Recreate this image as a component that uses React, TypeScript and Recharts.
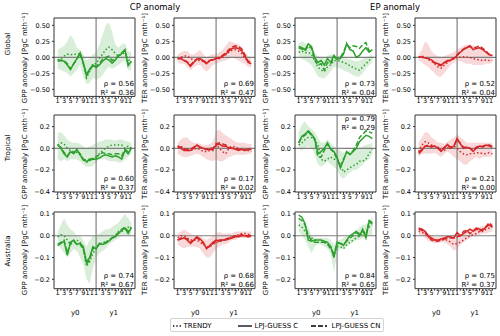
import React from 'react';
import { ComposedChart, Line, Area, XAxis, YAxis, ReferenceLine } from 'recharts';

// x positions: 12 months of y0 followed by 12 months of y1
const monthIdx = [0, 1, 2, 3, 4, 5, 6, 7, 8, 9, 10, 11, 12, 13, 14, 15, 16, 17, 18, 19, 20, 21, 22, 23];
const monthLabels = ['1', '', '3', '', '5', '', '7', '', '9', '', '11', '', '1', '', '3', '', '5', '', '7', '', '9', '', '11', ''];
const yearPos = [5.5, 17.5];
const yearLabels = ['y0', 'y1'];

const globalTicks = [-0.5, -0.25, 0, 0.25, 0.5];
const tropicalTicks = [-0.4, -0.2, 0, 0.2];
const australiaTicks = [-0.2, -0.1, 0, 0.1];

// Global, CP, GPP
const gCpGppTrendy = [-0.04, -0.02, 0.02, 0.05, 0.04, 0.05, 0.05, 0.06, -0.1, -0.32, -0.22, -0.1, -0.1, -0.02, 0.05, 0.12, 0.16, 0.12, 0.06, 0.02, 0.05, 0.08, -0.04, -0.05];
const gCpGppC = [-0.06, -0.05, -0.06, -0.12, -0.19, -0.1, -0.02, 0.07, -0.08, -0.27, -0.18, -0.12, -0.16, -0.12, -0.06, -0.02, -0.04, -0.09, -0.04, 0.02, 0.06, 0.12, -0.13, -0.06];
const gCpGppCN = [-0.05, -0.04, -0.05, -0.1, -0.18, -0.1, -0.03, 0.06, -0.1, -0.29, -0.2, -0.13, -0.14, -0.1, -0.03, 0.0, 0.02, -0.05, -0.02, 0.03, 0.07, 0.11, -0.1, -0.07];
const gCpGppLo = [-0.18, -0.2, -0.22, -0.25, -0.3, -0.25, -0.2, -0.12, -0.3, -0.42, -0.4, -0.32, -0.35, -0.33, -0.28, -0.2, -0.15, -0.18, -0.15, -0.12, -0.08, -0.05, -0.2, -0.2];
const gCpGppHi = [0.12, 0.15, 0.18, 0.25, 0.35, 0.28, 0.15, 0.12, 0.05, -0.05, 0.0, 0.05, 0.08, 0.2, 0.35, 0.5, 0.55, 0.4, 0.2, 0.15, 0.2, 0.22, 0.1, 0.08];

// Global, CP, TER
const gCpTerTrendy = [-0.02, 0.0, 0.02, 0.02, -0.02, -0.04, -0.05, -0.05, -0.06, -0.09, -0.06, -0.03, -0.02, -0.02, 0.0, 0.04, 0.08, 0.11, 0.12, 0.1, 0.06, -0.01, -0.06, -0.08];
const gCpTerC = [-0.02, -0.02, -0.05, -0.08, -0.14, -0.08, -0.03, -0.02, -0.06, -0.1, -0.05, -0.04, -0.02, -0.01, 0.02, 0.05, 0.1, 0.14, 0.15, 0.14, 0.1, 0.02, -0.08, -0.1];
const gCpTerCN = [-0.02, -0.01, -0.04, -0.07, -0.12, -0.07, -0.03, -0.03, -0.05, -0.08, -0.05, -0.03, -0.01, 0.0, 0.03, 0.07, 0.12, 0.16, 0.18, 0.17, 0.13, 0.04, -0.06, -0.09];
const gCpTerLo = [-0.08, -0.1, -0.1, -0.15, -0.2, -0.15, -0.12, -0.12, -0.18, -0.22, -0.18, -0.12, -0.1, -0.08, -0.06, -0.05, -0.02, 0.0, -0.02, -0.05, -0.08, -0.1, -0.15, -0.16];
const gCpTerHi = [0.05, 0.08, 0.1, 0.1, 0.05, 0.04, 0.08, 0.12, 0.05, 0.0, 0.03, 0.05, 0.05, 0.08, 0.12, 0.18, 0.25, 0.24, 0.22, 0.2, 0.16, 0.08, 0.02, 0.0];

// Global, EP, GPP
const gEpGppTrendy = [0.08, 0.1, 0.07, 0.08, 0.05, -0.05, -0.15, -0.2, -0.22, -0.15, -0.12, -0.05, -0.05, -0.06, -0.08, -0.1, -0.13, -0.16, -0.18, -0.2, -0.15, -0.1, -0.05, 0.0];
const gEpGppC = [0.17, 0.15, 0.12, 0.21, 0.17, 0.0, -0.08, -0.05, -0.12, -0.02, -0.08, 0.03, -0.03, -0.02, 0.05, 0.22, 0.12, 0.1, 0.0, 0.03, 0.1, 0.15, 0.08, 0.12];
const gEpGppCN = [0.15, 0.13, 0.1, 0.18, 0.14, -0.03, -0.12, -0.1, -0.2, -0.08, -0.1, 0.0, -0.02, 0.0, 0.08, 0.2, 0.15, 0.18, 0.17, 0.14, 0.2, 0.23, 0.1, 0.12];
const gEpGppLo = [0.0, -0.02, -0.05, -0.08, -0.12, -0.2, -0.3, -0.32, -0.33, -0.28, -0.22, -0.15, -0.15, -0.18, -0.2, -0.22, -0.25, -0.28, -0.3, -0.3, -0.25, -0.18, -0.12, -0.08];
const gEpGppHi = [0.22, 0.25, 0.22, 0.18, 0.15, 0.08, 0.02, 0.0, -0.02, 0.03, 0.05, 0.05, 0.03, 0.02, 0.0, -0.02, -0.03, -0.05, -0.06, -0.05, -0.02, 0.0, 0.02, 0.04];

// Global, EP, TER
const gEpTerTrendy = [0.0, 0.02, 0.0, -0.03, -0.06, -0.1, -0.15, -0.17, -0.12, -0.08, -0.05, -0.02, 0.0, 0.0, 0.01, 0.0, 0.0, -0.02, -0.03, -0.04, -0.05, -0.04, -0.05, -0.05];
const gEpTerC = [0.0, 0.0, -0.01, -0.02, -0.04, -0.08, -0.1, -0.12, -0.08, -0.05, -0.04, -0.02, 0.03, 0.08, 0.12, 0.15, 0.18, 0.12, 0.14, 0.15, 0.12, 0.08, 0.04, 0.03];
const gEpTerCN = [0.01, 0.0, 0.0, -0.02, -0.05, -0.09, -0.12, -0.13, -0.09, -0.06, -0.04, -0.01, 0.04, 0.09, 0.13, 0.16, 0.17, 0.14, 0.16, 0.18, 0.14, 0.1, 0.05, 0.03];
const gEpTerLo = [-0.05, -0.08, -0.12, -0.15, -0.2, -0.25, -0.3, -0.3, -0.25, -0.18, -0.12, -0.08, -0.05, -0.06, -0.08, -0.1, -0.1, -0.12, -0.12, -0.12, -0.12, -0.1, -0.1, -0.08];
const gEpTerHi = [0.05, 0.12, 0.25, 0.2, 0.1, 0.05, 0.02, 0.0, 0.02, 0.04, 0.06, 0.08, 0.12, 0.15, 0.18, 0.2, 0.2, 0.18, 0.16, 0.15, 0.12, 0.1, 0.06, 0.05];

// Tropical, CP, GPP
const tCpGppTrendy = [0.03, 0.05, 0.04, 0.0, -0.02, -0.03, -0.04, -0.06, -0.1, -0.13, -0.11, -0.1, -0.08, -0.05, -0.02, 0.0, 0.02, 0.03, 0.03, 0.03, 0.03, 0.0, 0.02, 0.0];
const tCpGppC = [0.035, 0.0, -0.05, -0.08, -0.03, -0.05, -0.01, -0.06, -0.11, -0.12, -0.11, -0.1, -0.1, -0.09, -0.07, -0.06, -0.07, -0.08, -0.07, -0.08, -0.1, -0.02, -0.05, 0.0];
const tCpGppCN = [0.03, 0.01, -0.04, -0.07, -0.03, -0.04, -0.02, -0.05, -0.1, -0.11, -0.1, -0.09, -0.08, -0.06, -0.04, -0.05, -0.05, -0.06, -0.05, -0.05, -0.07, -0.01, -0.03, 0.01];
const tCpGppLo = [-0.1, -0.12, -0.1, -0.12, -0.1, -0.1, -0.1, -0.12, -0.15, -0.17, -0.17, -0.16, -0.13, -0.1, -0.1, -0.1, -0.12, -0.12, -0.12, -0.13, -0.13, -0.1, -0.08, -0.05];
const tCpGppHi = [0.14, 0.15, 0.12, 0.08, 0.06, 0.05, 0.05, 0.04, 0.02, 0.0, 0.02, 0.03, 0.05, 0.06, 0.07, 0.08, 0.08, 0.08, 0.07, 0.08, 0.08, 0.07, 0.06, 0.05];

// Tropical, CP, TER
const tCpTerTrendy = [0.02, 0.02, 0.0, -0.02, -0.02, -0.01, 0.0, -0.01, -0.03, -0.03, -0.02, -0.02, 0.04, 0.0, -0.03, -0.05, 0.0, 0.02, 0.01, 0.0, -0.01, -0.02, -0.02, -0.03];
const tCpTerC = [0.01, 0.0, -0.02, -0.02, -0.02, 0.0, 0.03, 0.01, 0.0, -0.01, -0.01, -0.01, 0.03, 0.04, 0.02, 0.02, 0.0, 0.0, -0.01, -0.02, -0.01, -0.02, -0.01, -0.01];
const tCpTerCN = [0.02, 0.01, -0.01, -0.01, -0.01, 0.01, 0.03, 0.01, 0.0, -0.01, 0.0, 0.0, 0.04, 0.05, 0.04, 0.03, 0.01, 0.0, 0.0, -0.01, -0.01, -0.02, 0.0, -0.01];
const tCpTerLo = [-0.05, -0.07, -0.08, -0.08, -0.07, -0.06, -0.05, -0.06, -0.08, -0.1, -0.11, -0.12, -0.1, -0.12, -0.12, -0.1, -0.08, -0.07, -0.06, -0.06, -0.06, -0.06, -0.05, -0.05];
const tCpTerHi = [0.05, 0.08, 0.1, 0.1, 0.07, 0.05, 0.05, 0.04, 0.03, 0.03, 0.04, 0.06, 0.16, 0.17, 0.14, 0.12, 0.1, 0.08, 0.06, 0.05, 0.05, 0.05, 0.04, 0.04];

// Tropical, EP, GPP
const tEpGppTrendy = [0.03, 0.05, 0.08, 0.1, 0.1, 0.08, 0.03, -0.1, -0.12, -0.1, -0.08, -0.1, -0.1, -0.15, -0.22, -0.2, -0.18, -0.16, -0.15, -0.12, -0.12, -0.1, -0.05, -0.01];
const tEpGppC = [0.05, 0.11, 0.13, 0.16, 0.13, 0.09, -0.05, -0.03, 0.0, 0.05, -0.01, -0.03, -0.08, -0.18, -0.11, -0.03, -0.06, -0.03, 0.0, 0.06, 0.09, 0.12, 0.11, 0.09];
const tEpGppCN = [0.05, 0.1, 0.12, 0.15, 0.12, 0.08, -0.08, -0.08, -0.02, 0.04, 0.0, -0.04, -0.1, -0.17, -0.1, -0.04, -0.05, -0.02, 0.03, 0.1, 0.13, 0.16, 0.15, 0.14];
const tEpGppLo = [0.0, -0.02, 0.0, 0.02, 0.0, -0.05, -0.15, -0.17, -0.15, -0.12, -0.15, -0.17, -0.2, -0.26, -0.28, -0.25, -0.22, -0.2, -0.2, -0.18, -0.15, -0.12, -0.1, -0.05];
const tEpGppHi = [0.15, 0.22, 0.25, 0.2, 0.18, 0.15, 0.1, 0.05, 0.05, 0.08, 0.05, 0.02, 0.0, -0.02, -0.04, -0.03, -0.02, -0.02, 0.0, 0.0, 0.02, 0.03, 0.04, 0.05];

// Tropical, EP, TER
const tEpTerTrendy = [-0.03, 0.03, 0.06, 0.05, 0.03, 0.02, 0.0, -0.02, -0.02, 0.0, 0.01, 0.02, 0.0, -0.03, -0.05, -0.06, -0.05, -0.05, -0.04, -0.04, -0.05, -0.05, -0.04, -0.05];
const tEpTerC = [-0.05, -0.02, 0.02, 0.02, 0.01, 0.02, 0.0, -0.03, 0.0, 0.035, 0.0, 0.02, 0.09, 0.04, 0.0, 0.01, 0.0, -0.03, 0.0, 0.02, 0.01, 0.03, 0.02, 0.01];
const tEpTerCN = [-0.04, -0.01, 0.02, 0.03, 0.02, 0.02, 0.01, -0.02, 0.01, 0.03, 0.01, 0.02, 0.08, 0.05, 0.01, 0.01, 0.0, -0.02, 0.01, 0.02, 0.02, 0.03, 0.03, 0.02];
const tEpTerLo = [-0.08, -0.05, -0.05, -0.05, -0.05, -0.04, -0.06, -0.08, -0.05, -0.03, -0.05, -0.08, -0.1, -0.12, -0.15, -0.15, -0.12, -0.1, -0.08, -0.1, -0.08, -0.08, -0.08, -0.07];
const tEpTerHi = [0.05, 0.1, 0.15, 0.14, 0.1, 0.08, 0.05, 0.05, 0.04, 0.06, 0.08, 0.1, 0.13, 0.1, 0.08, 0.05, 0.05, 0.05, 0.05, 0.05, 0.05, 0.05, 0.05, 0.05];

// Australia, CP, GPP
const aCpGppTrendy = [-0.005, 0.005, 0.0, -0.02, -0.04, -0.03, -0.02, -0.03, -0.06, -0.14, -0.12, -0.08, -0.06, -0.04, -0.03, -0.03, -0.02, -0.01, 0.0, 0.02, 0.02, 0.03, 0.04, 0.03];
const aCpGppC = [-0.046, -0.035, -0.025, -0.09, -0.03, -0.02, -0.04, -0.035, -0.05, -0.12, -0.1, -0.05, -0.06, -0.035, -0.04, -0.035, -0.025, -0.01, -0.005, 0.01, 0.025, 0.035, 0.01, 0.037];
const aCpGppCN = [-0.04, -0.03, -0.02, -0.08, -0.03, -0.025, -0.04, -0.04, -0.06, -0.13, -0.11, -0.06, -0.05, -0.04, -0.035, -0.03, -0.02, -0.01, 0.0, 0.015, 0.03, 0.04, 0.02, 0.04];
const aCpGppLo = [-0.04, -0.06, -0.08, -0.1, -0.08, -0.06, -0.07, -0.1, -0.13, -0.2, -0.22, -0.15, -0.1, -0.08, -0.07, -0.06, -0.04, -0.03, -0.02, -0.01, 0.0, 0.0, 0.0, 0.0];
const aCpGppHi = [0.02, 0.05, 0.08, 0.05, 0.03, 0.02, 0.0, 0.0, -0.02, -0.05, -0.02, 0.0, 0.0, 0.01, 0.02, 0.03, 0.03, 0.04, 0.05, 0.06, 0.08, 0.1, 0.08, 0.06];

// Australia, CP, TER
const aCpTerTrendy = [-0.01, 0.0, 0.0, -0.01, -0.02, -0.02, -0.02, -0.03, -0.04, -0.05, -0.05, -0.04, -0.03, -0.03, -0.02, -0.02, -0.01, -0.005, 0.0, 0.005, 0.01, 0.01, 0.005, 0.01];
const aCpTerC = [-0.02, -0.015, -0.01, -0.02, -0.035, -0.02, -0.005, -0.015, -0.03, -0.06, -0.045, -0.03, -0.02, -0.025, -0.02, -0.02, -0.015, -0.01, -0.005, -0.005, 0.0, 0.0, -0.005, 0.0];
const aCpTerCN = [-0.02, -0.01, -0.01, -0.015, -0.03, -0.02, -0.01, -0.02, -0.035, -0.055, -0.05, -0.035, -0.025, -0.02, -0.02, -0.015, -0.01, -0.005, 0.0, 0.0, 0.005, 0.0, 0.0, 0.005];
const aCpTerLo = [-0.04, -0.05, -0.06, -0.05, -0.05, -0.05, -0.05, -0.06, -0.08, -0.1, -0.1, -0.08, -0.06, -0.05, -0.04, -0.04, -0.03, -0.02, -0.02, -0.01, -0.01, -0.01, -0.01, -0.01];
const aCpTerHi = [0.01, 0.02, 0.03, 0.02, 0.01, 0.0, 0.0, 0.0, -0.01, -0.02, -0.01, 0.0, 0.01, 0.02, 0.01, 0.01, 0.01, 0.01, 0.02, 0.02, 0.02, 0.02, 0.02, 0.02];

// Australia, EP, GPP
const aEpGppTrendy = [0.05, 0.04, 0.02, 0.0, -0.01, -0.02, -0.03, -0.03, -0.03, -0.035, -0.05, -0.09, -0.05, -0.05, -0.06, -0.04, -0.03, -0.02, -0.01, 0.0, 0.01, 0.02, 0.04, 0.05];
const aEpGppC = [0.095, 0.085, 0.055, -0.02, -0.025, -0.02, -0.02, -0.02, -0.025, -0.03, -0.05, -0.1, -0.03, -0.035, -0.045, -0.02, 0.0, 0.01, 0.02, 0.0, 0.03, -0.01, 0.065, 0.055];
const aEpGppCN = [0.08, 0.07, 0.05, 0.0, -0.02, -0.03, -0.03, -0.03, -0.03, -0.04, -0.06, -0.08, -0.04, -0.035, -0.04, -0.025, -0.01, 0.0, 0.015, 0.01, 0.02, 0.0, 0.07, 0.06];
const aEpGppLo = [0.02, 0.0, -0.02, -0.05, -0.08, -0.05, -0.04, -0.04, -0.05, -0.06, -0.08, -0.17, -0.08, -0.06, -0.06, -0.05, -0.04, -0.03, -0.02, -0.02, -0.01, -0.01, 0.0, 0.0];
const aEpGppHi = [0.08, 0.06, 0.05, 0.04, 0.0, -0.01, -0.01, -0.01, -0.01, -0.01, -0.02, -0.04, -0.02, -0.02, -0.01, 0.0, 0.0, 0.01, 0.02, 0.04, 0.05, 0.05, 0.07, 0.09];

// Australia, EP, TER
const aEpTerTrendy = [0.02, 0.015, 0.01, -0.005, -0.015, -0.02, -0.02, -0.02, -0.02, -0.02, -0.03, -0.04, -0.035, -0.03, -0.02, -0.01, 0.0, 0.005, 0.01, 0.02, 0.02, 0.03, 0.035, 0.04];
const aEpTerC = [0.035, 0.03, 0.02, 0.0, -0.01, -0.02, -0.02, -0.015, -0.01, -0.005, -0.005, -0.01, 0.015, 0.0, 0.01, 0.02, 0.03, 0.02, 0.035, 0.03, 0.025, 0.04, 0.05, 0.04];
const aEpTerCN = [0.03, 0.025, 0.015, -0.005, -0.02, -0.025, -0.025, -0.02, -0.015, -0.01, -0.01, -0.01, -0.005, 0.0, 0.02, 0.025, 0.01, 0.02, 0.03, 0.02, 0.03, 0.04, 0.06, 0.045];
const aEpTerLo = [0.005, 0.0, -0.01, -0.025, -0.03, -0.035, -0.035, -0.03, -0.03, -0.04, -0.05, -0.07, -0.06, -0.04, -0.03, -0.02, -0.01, 0.0, 0.0, 0.005, 0.01, 0.01, 0.015, 0.02];
const aEpTerHi = [0.04, 0.035, 0.025, 0.01, 0.0, -0.005, -0.005, 0.0, 0.0, 0.0, 0.0, 0.005, 0.01, 0.01, 0.02, 0.025, 0.03, 0.035, 0.04, 0.04, 0.045, 0.05, 0.055, 0.06];

const GREEN = '#2ca02c';
const RED = '#d62728';
const AXIS = '#333';
const REF = '#808080';
const FONT = '"DejaVu Sans", sans-serif';

const xDomain: [number, number] = [-1.15, 24.15];
const colLeft = [54, 174, 295, 415];
const plotW = 81;
const rowDefs = [
  { top: 18.3, h: 78.4, domain: [-0.61, 0.615] as [number, number], ticks: globalTicks, dec: 2, name: 'Global', labelY: 44 },
  { top: 115, h: 77, domain: [-0.403, 0.307] as [number, number], ticks: tropicalTicks, dec: 1, name: 'Tropical', labelY: 148 },
  { top: 212, h: 76.7, domain: [-0.243, 0.109] as [number, number], ticks: australiaTicks, dec: 1, name: 'Australia', labelY: 251 },
];

const fmt = (dec: number) => (v: number) => (v < 0 ? '\u2212' : '') + Math.abs(v).toFixed(dec);
const xToPx = (v: number) => ((v - xDomain[0]) / (xDomain[1] - xDomain[0])) * plotW;

type PanelDef = {
  row: number; col: number; color: string; yLabel: string;
  trendy: number[]; c: number[]; cn: number[]; lo: number[]; hi: number[];
  rho: string; r2: string; statsTop?: boolean;
};

const GPP = 'GPP anomaly [PgC mth\u207B\u00B9]';
const TER = 'TER anomaly [PgC mth\u207B\u00B9]';

const panels: PanelDef[] = [
  { row: 0, col: 0, color: GREEN, yLabel: GPP, trendy: gCpGppTrendy, c: gCpGppC, cn: gCpGppCN, lo: gCpGppLo, hi: gCpGppHi, rho: '0.56', r2: '0.36' },
  { row: 0, col: 1, color: RED, yLabel: TER, trendy: gCpTerTrendy, c: gCpTerC, cn: gCpTerCN, lo: gCpTerLo, hi: gCpTerHi, rho: '0.69', r2: '0.47' },
  { row: 0, col: 2, color: GREEN, yLabel: GPP, trendy: gEpGppTrendy, c: gEpGppC, cn: gEpGppCN, lo: gEpGppLo, hi: gEpGppHi, rho: '0.73', r2: '0.04' },
  { row: 0, col: 3, color: RED, yLabel: TER, trendy: gEpTerTrendy, c: gEpTerC, cn: gEpTerCN, lo: gEpTerLo, hi: gEpTerHi, rho: '0.52', r2: '0.04' },
  { row: 1, col: 0, color: GREEN, yLabel: GPP, trendy: tCpGppTrendy, c: tCpGppC, cn: tCpGppCN, lo: tCpGppLo, hi: tCpGppHi, rho: '0.60', r2: '0.37' },
  { row: 1, col: 1, color: RED, yLabel: TER, trendy: tCpTerTrendy, c: tCpTerC, cn: tCpTerCN, lo: tCpTerLo, hi: tCpTerHi, rho: '0.17', r2: '0.02' },
  { row: 1, col: 2, color: GREEN, yLabel: GPP, trendy: tEpGppTrendy, c: tEpGppC, cn: tEpGppCN, lo: tEpGppLo, hi: tEpGppHi, rho: '0.79', r2: '0.29', statsTop: true },
  { row: 1, col: 3, color: RED, yLabel: TER, trendy: tEpTerTrendy, c: tEpTerC, cn: tEpTerCN, lo: tEpTerLo, hi: tEpTerHi, rho: '0.21', r2: '0.00' },
  { row: 2, col: 0, color: GREEN, yLabel: GPP, trendy: aCpGppTrendy, c: aCpGppC, cn: aCpGppCN, lo: aCpGppLo, hi: aCpGppHi, rho: '0.74', r2: '0.67' },
  { row: 2, col: 1, color: RED, yLabel: TER, trendy: aCpTerTrendy, c: aCpTerC, cn: aCpTerCN, lo: aCpTerLo, hi: aCpTerHi, rho: '0.68', r2: '0.66' },
  { row: 2, col: 2, color: GREEN, yLabel: GPP, trendy: aEpGppTrendy, c: aEpGppC, cn: aEpGppCN, lo: aEpGppLo, hi: aEpGppHi, rho: '0.84', r2: '0.65' },
  { row: 2, col: 3, color: RED, yLabel: TER, trendy: aEpTerTrendy, c: aEpTerC, cn: aEpTerCN, lo: aEpTerLo, hi: aEpTerHi, rho: '0.75', r2: '0.37' },
];

const abs = (extra: React.CSSProperties): React.CSSProperties => ({ position: 'absolute', whiteSpace: 'nowrap', ...extra });

function Panel({ p }: { p: PanelDef }) {
  const r = rowDefs[p.row];
  const left = colLeft[p.col];
  const last = p.row === 2;
  const data = monthIdx.map((m, k) => ({
    m,
    trendy: p.trendy[k],
    c: p.c[k],
    cn: p.cn[k],
    band: [p.lo[k], p.hi[k]],
  }));
  const bottom = r.top + r.h;
  return (
    <>
      <div style={abs({ left: left - 40, top: r.top - 2 })}>
        <ComposedChart
          width={40 + plotW + 2}
          height={2 + r.h + 12}
          data={data}
          margin={{ top: 2, right: 2, bottom: 0, left: 0 }}
        >
          <XAxis
            dataKey="m" type="number" domain={xDomain} allowDataOverflow
            ticks={monthIdx} interval={0} tickFormatter={(v: number) => monthLabels[v] ?? ''}
            tickSize={2} tickMargin={0} height={12} stroke={AXIS}
            tick={{ fontSize: 6.5, fill: '#000' }}
          />
          <YAxis
            type="number" domain={r.domain} allowDataOverflow ticks={r.ticks} interval={0}
            tickFormatter={fmt(r.dec)} width={40} tickSize={2} tickMargin={2} stroke={AXIS}
            tick={{ fontSize: 6.5, fill: '#000' }}
          />
          <Area
            type="linear" dataKey="band" stroke="none" fill={p.color} fillOpacity={0.18}
            isAnimationActive={false} dot={false} activeDot={false}
          />
          <ReferenceLine y={0} stroke={REF} strokeWidth={1.2} />
          <ReferenceLine x={12} stroke={REF} strokeWidth={1.2} />
          {/* top and right frame of the axes box */}
          <ReferenceLine y={r.domain[1]} stroke={AXIS} strokeWidth={1} />
          <ReferenceLine x={xDomain[1]} stroke={AXIS} strokeWidth={1} />
          <Line type="linear" dataKey="trendy" stroke={p.color} strokeWidth={1.5} strokeDasharray="1.5 2.2" dot={false} isAnimationActive={false} />
          <Line type="linear" dataKey="c" stroke={p.color} strokeWidth={1.5} dot={false} isAnimationActive={false} />
          <Line type="linear" dataKey="cn" stroke={p.color} strokeWidth={1.5} strokeDasharray="5 2.2" dot={false} isAnimationActive={false} />
        </ComposedChart>
      </div>
      <div
        style={abs({
          left: left - 29.5, top: r.top + r.h / 2, fontSize: 7,
          transform: 'translate(-50%, -50%) rotate(-90deg)',
        })}
      >
        {p.yLabel}
      </div>
      <div
        style={abs({
          left: left + plotW - 101, width: 100, textAlign: 'right', fontSize: 7, lineHeight: '9px',
          top: p.statsTop ? r.top - 0.5 : bottom - 17,
        })}
      >
        <div>{'\u03C1 = ' + p.rho}</div>
        <div>{'R\u00B2 = ' + p.r2}</div>
      </div>
      {last &&
        yearPos.map((v, k) => (
          <div key={k} style={abs({ left: left + xToPx(v), top: 313, fontSize: 7, transform: 'translate(-50%, -50%)' })}>
            {yearLabels[k]}
          </div>
        ))}
    </>
  );
}

function LegendSample({ dash, x, w }: { dash?: string; x: number; w: number }) {
  return (
    <svg style={abs({ left: x, top: 4.5 })} width={w} height={4}>
      <line x1={0} x2={w} y1={2} y2={2} stroke="#000" strokeWidth={1.3} strokeDasharray={dash} />
    </svg>
  );
}

export default function App() {
  return (
    <div style={{ position: 'absolute', left: 0, top: 0, width: 500, height: 336, background: '#fff', overflow: 'hidden', fontFamily: FONT, color: '#000' }}>
      <div style={abs({ left: 155, top: 7, fontSize: 8.5, transform: 'translate(-50%, -50%)' })}>CP anomaly</div>
      <div style={abs({ left: 395, top: 7, fontSize: 8.5, transform: 'translate(-50%, -50%)' })}>EP anomaly</div>
      {rowDefs.map((r) => (
        <div key={r.name} style={abs({ left: 7.5, top: r.labelY, fontSize: 7, transform: 'translate(-50%, -50%) rotate(-90deg)' })}>
          {r.name}
        </div>
      ))}
      {panels.map((p, i) => (
        <Panel key={i} p={p} />
      ))}
      <div style={abs({ left: 169.5, top: 318, width: 214, height: 14, border: '1px solid #d4d4d4', borderRadius: 2, boxSizing: 'border-box', fontSize: 7 })}>
        <LegendSample x={2} w={9} dash="1.3 2" />
        <div style={abs({ left: 13, top: 2.5 })}>TRENDY</div>
        <LegendSample x={67} w={14} />
        <div style={abs({ left: 84, top: 2.5 })}>LPJ-GUESS C</div>
        <LegendSample x={140} w={16} dash="5 2" />
        <div style={abs({ left: 161, top: 2.5 })}>LPJ-GUESS CN</div>
      </div>
    </div>
  );
}
